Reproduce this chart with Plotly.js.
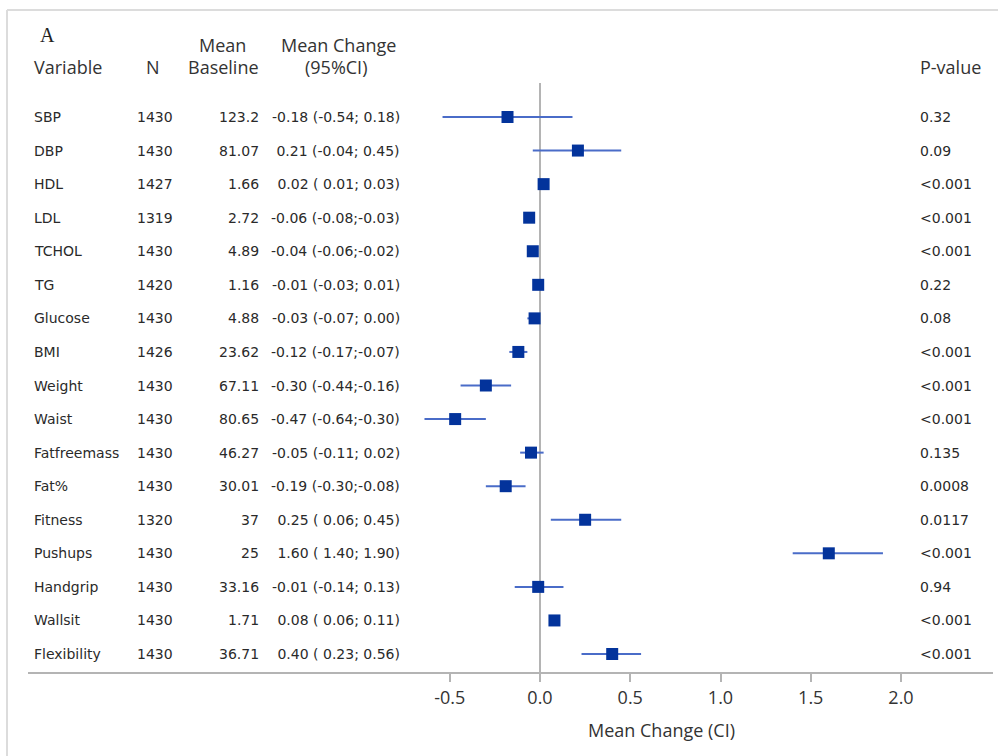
<!DOCTYPE html>
<html>
<head>
<meta charset="utf-8">
<script src="https://cdn.plot.ly/plotly-3.0.1.min.js"></script>
<style>html,body{margin:0;padding:0;background:#fff}</style>
</head>
<body>
<div id="chart" style="width:998px;height:756px"></div>
<script>
// Forest plot: mean change (95% CI) per outcome variable
const variables = ["SBP","DBP","HDL","LDL","TCHOL","TG","Glucose","BMI","Weight","Waist","Fatfreemass","Fat%","Fitness","Pushups","Handgrip","Wallsit","Flexibility"];
const nObs = [1430,1430,1427,1319,1430,1420,1430,1426,1430,1430,1430,1430,1320,1430,1430,1430,1430];
const meanBaseline = ["123.2","81.07","1.66","2.72","4.89","1.16","4.88","23.62","67.11","80.65","46.27","30.01","37","25","33.16","1.71","36.71"];
const meanChange = [-0.18,0.21,0.02,-0.06,-0.04,-0.01,-0.03,-0.12,-0.30,-0.47,-0.05,-0.19,0.25,1.60,-0.01,0.08,0.40];
const ciLow  = [-0.54,-0.04,0.01,-0.08,-0.06,-0.03,-0.07,-0.17,-0.44,-0.64,-0.11,-0.30,0.06,1.40,-0.14,0.06,0.23];
const ciHigh = [0.18,0.45,0.03,-0.03,-0.02,0.01,0.00,-0.07,-0.16,-0.30,0.02,-0.08,0.45,1.90,0.13,0.11,0.56];
const pValues = ["0.32","0.09","<0.001","<0.001","<0.001","0.22","0.08","<0.001","<0.001","<0.001","0.135","0.0008","0.0117","<0.001","0.94","<0.001","<0.001"];
const xTicks = [-0.5,0,0.5,1,1.5,2];
const xTickText = ["-0.5","0.0","0.5","1.0","1.5","2.0"];

// page geometry (pixels)
const W = 998, H = 756, L = 28, R = 5, T = 83, B = 84;
const PW = W - L - R, PH = H - T - B;
const px = x => (x - L) / PW;
const py = y => (H - B - y) / PH;

const rowIdx = variables.map((_, i) => i);
const fmt = v => (v < 0 ? "-" : " ") + Math.abs(v).toFixed(2);
const esc = s => String(s).replace(/&/g, "&amp;").replace(/</g, "&lt;").replace(/>/g, "&gt;");

const rowFont = {family: "DejaVu Sans", size: 14, color: "#2a2a2a"};
const headFont = {family: "Open Sans", size: 18, color: "#333"};

const annotations = [];
const addText = (text, x, y, anchor, font, yref) => annotations.push({
  text: text, x: x, y: y, xref: "paper", yref: yref || "y",
  xanchor: anchor, yanchor: "middle", showarrow: false, font: font
});

variables.forEach((v, i) => {
  addText(esc(v), px(32), i, "left", rowFont);
  addText(String(nObs[i]), px(135), i, "left", rowFont);
  addText(meanBaseline[i], px(261), i, "right", rowFont);
  addText(`${fmt(meanChange[i])} (${fmt(ciLow[i])};${fmt(ciHigh[i])})`, px(402), i, "right", rowFont);
  addText(esc(pValues[i]), px(918), i, "left", rowFont);
});

// column headers
addText("A", px(38), py(35), "left", {family: "Liberation Serif", size: 20, color: "#222"}, "paper");
addText("Variable", px(32), py(67), "left", headFont, "paper");
addText("N", px(153), py(67), "center", headFont, "paper");
addText("Mean", px(222), py(45), "center", headFont, "paper");
addText("Baseline", px(223), py(67), "center", headFont, "paper");
addText("Mean Change", px(338), py(45), "center", headFont, "paper");
addText("(95%CI)", px(336), py(67), "center", headFont, "paper");
addText("P-value", px(918), py(67), "left", headFont, "paper");
// x-axis title
addText("Mean Change (CI)", px(661), py(730), "center", headFont, "paper");

const trace = {
  type: "scatter",
  mode: "markers",
  x: meanChange,
  y: rowIdx,
  marker: {symbol: "square", size: 12, color: "#03339b"},
  error_x: {
    type: "data", symmetric: false,
    array: meanChange.map((m, i) => ciHigh[i] - m),
    arrayminus: meanChange.map((m, i) => m - ciLow[i]),
    color: "#4a6cc8", thickness: 2, width: 0
  },
  hoverinfo: "skip"
};

const frameColor = "#dcdcdc";
const layout = {
  width: W, height: H,
  margin: {l: L, r: R, t: T, b: B, pad: 0},
  paper_bgcolor: "#fff", plot_bgcolor: "#fff",
  showlegend: false,
  xaxis: {
    range: [(L - 540) / 180.5, (W - R - 540) / 180.5],
    tickvals: xTicks, ticktext: xTickText,
    ticks: "outside", ticklen: 8, tickwidth: 2, tickcolor: "#b4b4b4",
    showline: true, linecolor: "#b4b4b4", linewidth: 2,
    showgrid: false,
    zeroline: true, zerolinecolor: "#b4b4b4", zerolinewidth: 2,
    tickfont: {family: "Open Sans", size: 18, color: "#333"}
  },
  yaxis: {
    range: [16.536, -1.013],
    showticklabels: false, showgrid: false, zeroline: false, showline: false, ticks: ""
  },
  annotations: annotations,
  shapes: [
    {type: "line", xref: "paper", yref: "paper", x0: px(7), x1: px(998), y0: py(10), y1: py(10), line: {color: frameColor, width: 2}},
    {type: "line", xref: "paper", yref: "paper", x0: px(7), x1: px(7), y0: py(10), y1: py(756), line: {color: frameColor, width: 2}}
  ]
};

Plotly.newPlot("chart", [trace], layout, {staticPlot: true, displayModeBar: false});
</script>
</body>
</html>
